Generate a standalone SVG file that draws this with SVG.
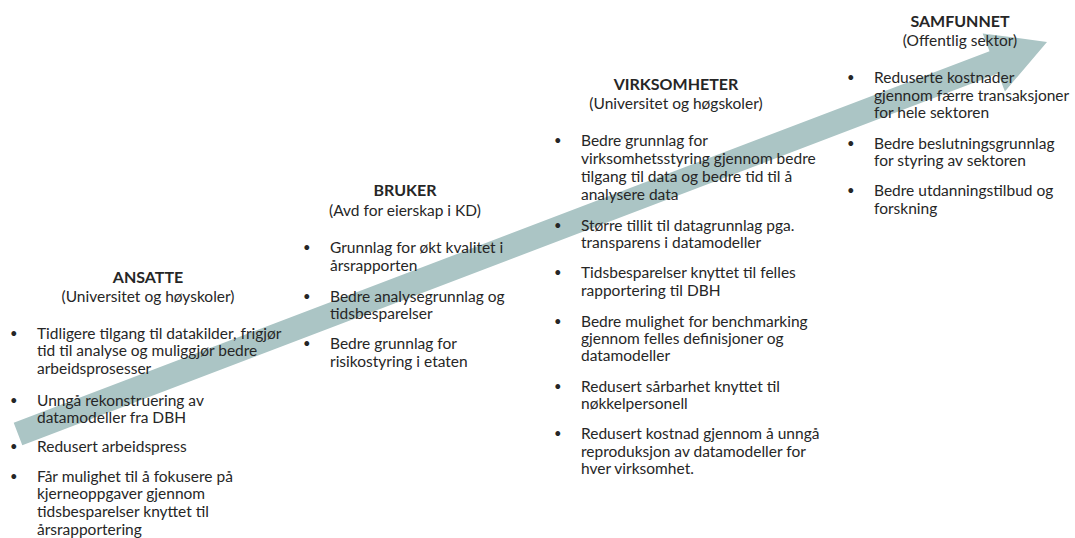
<svg xmlns="http://www.w3.org/2000/svg" width="1075" height="538" viewBox="0 0 1075 538">
<style>
text{font-family:Lato,"Open Sans","Liberation Sans",sans-serif;font-size:15.5px;fill:#262626}
.h{font-weight:bold;font-size:16px;text-anchor:middle}
.s{text-anchor:middle}
.b{font-size:13px}
</style>
<rect width="1075" height="538" fill="#fff"/>
<g id="connectors">
<polygon fill="#abc5c5" points="13.7,422.8 22.3,445.2 998.1,73.6 1004.9,91.4 1047,42 982.7,33.4 989.5,51.2"/>
</g>
<g id="ansatte">
<text class="h" x="148" y="283">ANSATTE</text>
<text class="s" x="148" y="302">(Universitet og høyskoler)</text>
<text class="b" x="10" y="338">•</text><text x="37" y="339">Tidligere tilgang til datakilder, frigjør</text>
<text x="37" y="356">tid til analyse og muliggjør bedre</text>
<text x="37" y="374">arbeidsprosesser</text>
<text class="b" x="10" y="405">•</text><text x="37" y="406">Unngå rekonstruering av</text>
<text x="37" y="423">datamodeller fra DBH</text>
<text class="b" x="10" y="451">•</text><text x="37" y="452">Redusert arbeidspress</text>
<text class="b" x="10" y="481">•</text><text x="37" y="482">Får mulighet til å fokusere på</text>
<text x="37" y="499">kjerneoppgaver gjennom</text>
<text x="37" y="517">tidsbesparelser knyttet til</text>
<text x="37" y="535">årsrapportering</text>
</g>
<g id="bruker">
<text class="h" x="405" y="196">BRUKER</text>
<text class="s" x="405" y="216">(Avd for eierskap i KD)</text>
<text class="b" x="303" y="252">•</text><text x="330" y="253">Grunnlag for økt kvalitet i</text>
<text x="330" y="271">årsrapporten</text>
<text class="b" x="303" y="301">•</text><text x="330" y="302">Bedre analysegrunnlag og</text>
<text x="330" y="319">tidsbesparelser</text>
<text class="b" x="303" y="348">•</text><text x="330" y="349">Bedre grunnlag for</text>
<text x="330" y="367">risikostyring i etaten</text>
</g>
<g id="virksomheter">
<text class="h" x="676" y="90">VIRKSOMHETER</text>
<text class="s" x="676" y="109">(Universitet og høgskoler)</text>
<text class="b" x="554" y="145">•</text><text x="581" y="146">Bedre grunnlag for</text>
<text x="581" y="164">virksomhetsstyring gjennom bedre</text>
<text x="581" y="182">tilgang til data og bedre tid til å</text>
<text x="581" y="200">analysere data</text>
<text class="b" x="554" y="230">•</text><text x="581" y="231">Større tillit til datagrunnlag pga.</text>
<text x="581" y="248">transparens i datamodeller</text>
<text class="b" x="554" y="277">•</text><text x="581" y="278">Tidsbesparelser knyttet til felles</text>
<text x="581" y="296">rapportering til DBH</text>
<text class="b" x="554" y="326">•</text><text x="581" y="327">Bedre mulighet for benchmarking</text>
<text x="581" y="344">gjennom felles definisjoner og</text>
<text x="581" y="361">datamodeller</text>
<text class="b" x="554" y="391">•</text><text x="581" y="392">Redusert sårbarhet knyttet til</text>
<text x="581" y="409">nøkkelpersonell</text>
<text class="b" x="554" y="438">•</text><text x="581" y="439">Redusert kostnad gjennom å unngå</text>
<text x="581" y="457">reproduksjon av datamodeller for</text>
<text x="581" y="474">hver virksomhet.</text>
</g>
<g id="samfunnet">
<text class="h" x="960" y="27">SAMFUNNET</text>
<text class="s" x="960" y="46">(Offentlig sektor)</text>
<text class="b" x="847" y="82">•</text><text x="874" y="83">Reduserte kostnader</text>
<text x="874" y="101">gjennom færre transaksjoner</text>
<text x="874" y="118">for hele sektoren</text>
<text class="b" x="847" y="148">•</text><text x="874" y="149">Bedre beslutningsgrunnlag</text>
<text x="874" y="166">for styring av sektoren</text>
<text class="b" x="847" y="195">•</text><text x="874" y="196">Bedre utdanningstilbud og</text>
<text x="874" y="214">forskning</text>
</g>
</svg>
